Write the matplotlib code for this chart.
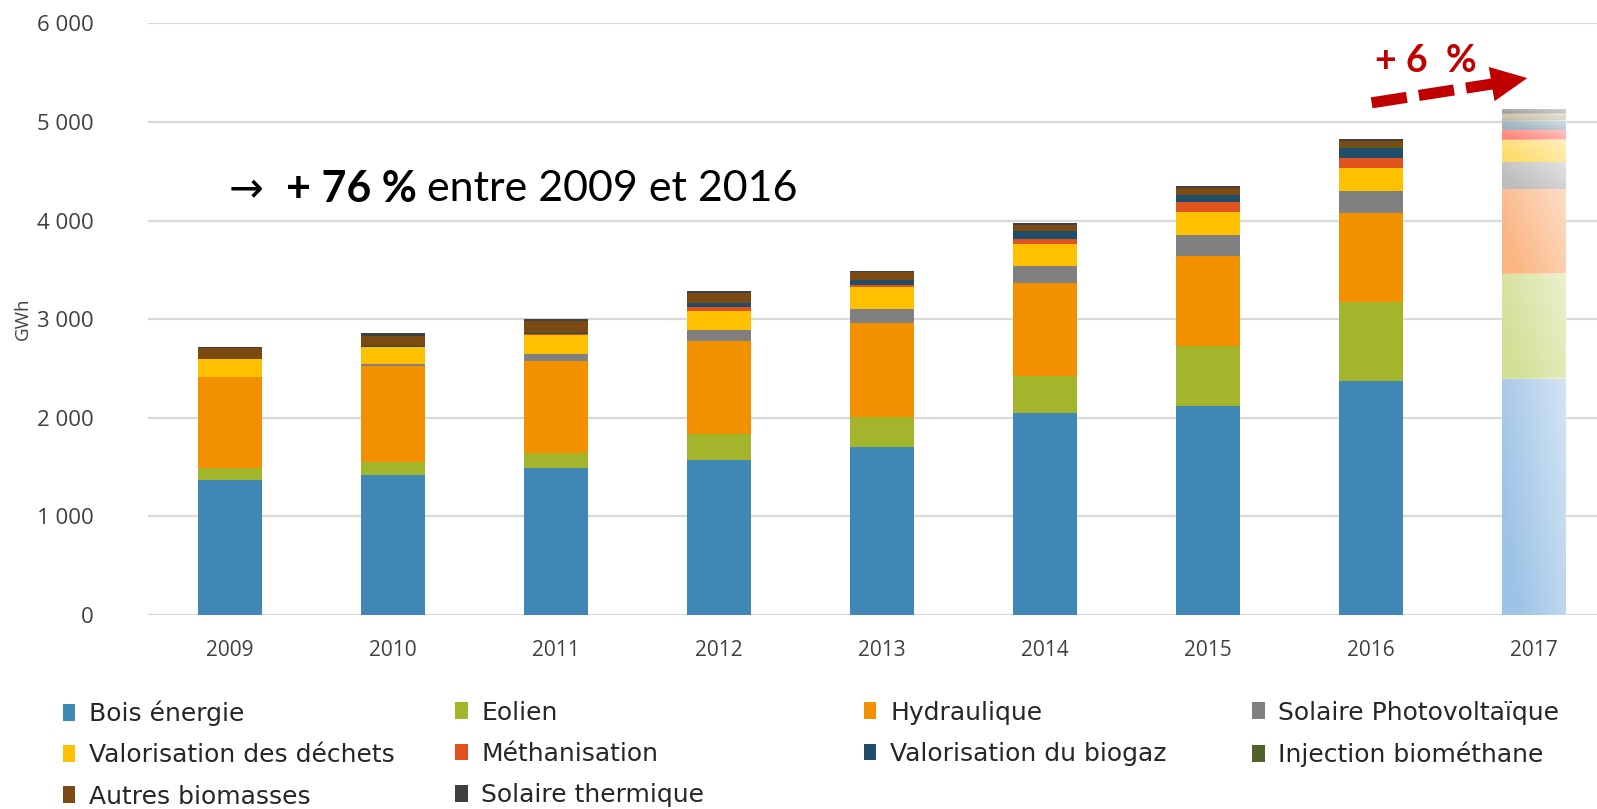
import matplotlib
matplotlib.use("Agg")
import matplotlib.pyplot as plt
import numpy as np

# Production d'énergie renouvelable (GWh)
YEARS = ["2009", "2010", "2011", "2012", "2013", "2014", "2015", "2016", "2017"]
BOIS = [1372, 1424, 1486, 1568, 1700, 2044, 2123, 2376, 2396]
EOLIEN = [114, 131, 155, 268, 305, 380, 608, 802, 1067]
HYDRAULIQUE = [928, 973, 939, 946, 960, 943, 913, 902, 862]
SOLAIRE_PV = [5, 15, 63, 108, 135, 176, 210, 220, 265]
DECHETS = [177, 172, 197, 196, 223, 217, 236, 230, 225]
METHANISATION = [0, 0, 10, 35, 24, 50, 96, 102, 100]
BIOGAZ = [0, 10, 15, 40, 50, 88, 74, 101, 95]
INJECTION = [0, 0, 0, 0, 0, 0, 5, 10, 30]
AUTRES = [115, 108, 115, 110, 85, 57, 63, 67, 45]
SOLAIRE_TH = [10, 25, 24, 15, 10, 17, 26, 18, 50]

SERIES = [
    ("Bois énergie", BOIS, "#3f88b5", "#9dc3e6"),
    ("Eolien", EOLIEN, "#a3b52a", "#d3df95"),
    ("Hydraulique", HYDRAULIQUE, "#f39000", "#fbb582"),
    ("Solaire Photovoltaïque", SOLAIRE_PV, "#808080", "#bdbdbd"),
    ("Valorisation des déchets", DECHETS, "#ffc000", "#ffdc6e"),
    ("Méthanisation", METHANISATION, "#e0531f", "#ff857a"),
    ("Valorisation du biogaz", BIOGAZ, "#1f4e6b", "#9fb2bf"),
    ("Injection biométhane", INJECTION, "#4f6228", "#b5bca8"),
    ("Autres biomasses", AUTRES, "#7b4a12", "#d3c3a8"),
    ("Solaire thermique", SOLAIRE_TH, "#404040", "#a0a0a0"),
]

# legend columns (row-major order of the original legend)
LEG_COLS = [[0, 4, 8], [1, 5, 9], [2, 6], [3, 7]]
LEG_X = [0.0394, 0.285, 0.541, 0.784]

fig = plt.figure(figsize=(15.97, 8.09), dpi=100)
ax = fig.add_axes([0.0927, 0.2398, 0.9073, 0.7312])

x = np.arange(len(YEARS))
width = 0.393
bottom = np.zeros(len(YEARS))
handles = []
faded_patches = []
for label, vals, color, faded in SERIES:
    vals = np.array(vals, dtype=float)
    h = ax.bar(x[:-1], vals[:-1], width, bottom=bottom[:-1], color=color,
               edgecolor="none", label=label, zorder=3)
    f = ax.bar(x[-1:], vals[-1:], width, bottom=bottom[-1:], color=faded,
               edgecolor="none", zorder=3)
    handles.append(h)
    faded_patches.extend(f.patches)
    bottom += vals

# washed-out look of the 2017 estimate: white diagonal sheen over each patch
grad = np.linspace(0, 1, 64)
sheen = np.clip(0.55 * (grad[None, :] * 0.8 + grad[::-1, None] * 0.4) - 0.1, 0, 1)
white = np.ones((64, 64, 4))
white[..., 3] = sheen
for p in faded_patches:
    if p.get_height() <= 0:
        continue
    x0, y0 = p.get_x(), p.get_y()
    ax.imshow(white, extent=(x0, x0 + p.get_width(), y0, y0 + p.get_height()),
              aspect="auto", origin="upper", zorder=3.5, interpolation="bilinear")

ax.set_xlim(-0.504, 8.388)
ax.set_ylim(0, 6000)
ax.set_yticks(np.arange(0, 6001, 1000))
ax.set_yticklabels([f"{v:,}".replace(",", " ") for v in range(0, 6001, 1000)])
ax.set_xticks(x)
ax.set_xticklabels(YEARS)
ax.tick_params(length=0, labelcolor="#404040")
ax.tick_params(axis="y", pad=39, labelsize=16)
ax.tick_params(axis="x", pad=18, labelsize=15)
for lab in ax.get_xticklabels() + ax.get_yticklabels():
    lab.set_fontfamily("Open Sans")
ax.grid(axis="y", color="#d9d9d9", lw=1.6, zorder=0)
ax.set_axisbelow(True)
for s in ax.spines.values():
    s.set_visible(False)
ax.set_ylabel("GWh", fontsize=13.5, color="#404040", family="Open Sans")
ax.yaxis.set_label_coords(-0.080, 0.50)

# annotations
ax.text(-0.01, 4320, "→", fontsize=30, family="DejaVu Sans", va="center",
        ha="left", color="black")
ax.text(0.34, 4320, "+ 76 %", fontsize=31, family="Lato",
        fontweight="bold", va="center", ha="left")
ax.text(1.21, 4320, "entre 2009 et 2016", fontsize=31,
        family="Lato", va="center", ha="left")

RED = "#c00000"
ax.text(7.34, 5615, "+ 6  %", fontsize=27, family="Lato", fontweight="bold",
        color=RED, ha="center", va="center")
ax.plot([7.005, 7.76], [5195, 5390], color=RED, lw=8, ls=(0, (3.2, 1.1)),
        solid_capstyle="butt", dash_capstyle="butt", clip_on=False, zorder=5)
ax.annotate("", xy=(7.96, 5446), xytext=(7.74, 5385),
            arrowprops=dict(arrowstyle="-|>,head_length=2.6,head_width=1.25",
                            color=RED, lw=0, shrinkA=0, shrinkB=0),
            annotation_clip=False, zorder=5)

for col, xpos in zip(LEG_COLS, LEG_X):
    fig.legend([handles[i] for i in col], [SERIES[i][0] for i in col],
               loc="upper left", bbox_to_anchor=(xpos, 0.134), frameon=False,
               prop={"family": "DejaVu Sans", "size": 18}, handlelength=0.5,
               handleheight=0.65, handletextpad=0.55, borderpad=0,
               borderaxespad=0, labelspacing=0.69, labelcolor="#262626")

fig.savefig("out.png", dpi=100)
